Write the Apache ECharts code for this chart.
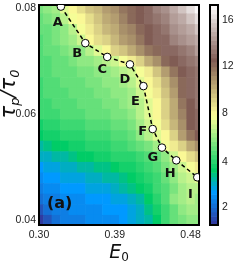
<!DOCTYPE html>
<html><head><meta charset="utf-8">
<script src="https://cdn.jsdelivr.net/npm/echarts@6/dist/echarts.min.js"></script>
<style>html,body{margin:0;padding:0;background:#fff}#c{width:245px;height:268px}</style>
</head><body><div id="c"></div>
<script>
// ---- data ----
const E0 = [0.30,0.31,0.32,0.33,0.34,0.35,0.36,0.37,0.38,0.39,0.40,0.41,0.42,0.43,0.44,0.45,0.46,0.47,0.48,0.49];
const tauRows = [0.080,0.078,0.076,0.074,0.072,0.070,0.068,0.066,0.064,0.062,0.060,0.058,0.056,0.054,0.052,0.050,0.048,0.046,0.044,0.042,0.040];
const zRows = [
 [5.4,5.8,6.3,7.3,8.1,8.8,9.4,10.0,10.6,11.2,11.8,12.3,12.7,13.1,13.6,14.2,14.9,15.6,16.4,17.2],
 [5.2,5.5,5.9,6.4,7.5,8.2,8.9,9.6,10.2,10.8,11.4,12.0,12.5,12.9,13.3,13.8,14.4,15.0,15.7,16.4],
 [5.0,5.3,5.6,6.0,6.5,7.6,8.4,9.1,9.8,10.4,11.0,11.6,12.2,12.7,13.0,13.4,13.9,14.4,15.0,15.6],
 [4.9,5.1,5.4,5.7,6.1,6.9,7.9,8.6,9.3,10.0,10.6,11.2,11.8,12.4,12.8,13.1,13.5,13.9,14.4,14.9],
 [4.8,5.0,5.2,5.4,5.7,6.0,6.4,7.3,8.2,9.0,9.7,10.4,11.0,11.7,12.3,12.8,13.1,13.4,13.8,14.3],
 [4.7,4.9,5.1,5.3,5.5,5.7,5.9,6.2,6.5,6.9,7.5,8.3,9.2,10.1,11.1,12.0,12.6,12.9,13.2,13.6],
 [4.6,4.8,5.0,5.1,5.3,5.5,5.6,5.8,6.0,6.2,6.5,6.9,7.7,8.5,9.5,10.6,11.7,12.6,13.0,13.4],
 [4.5,4.7,4.9,5.0,5.2,5.3,5.5,5.6,5.8,6.0,6.2,6.6,7.2,8.0,8.9,9.9,11.1,12.3,12.9,13.3],
 [4.5,4.6,4.8,4.9,5.1,5.2,5.3,5.5,5.6,5.8,6.0,6.3,6.8,7.6,8.5,9.5,10.7,12.0,12.8,13.2],
 [4.4,4.5,4.7,4.8,4.9,5.0,5.2,5.3,5.4,5.6,5.8,6.1,6.6,7.4,8.2,9.2,10.4,11.8,12.7,13.2],
 [4.3,4.4,4.5,4.6,4.7,4.8,5.0,5.1,5.2,5.4,5.6,5.9,6.4,7.2,8.0,9.0,10.2,11.6,12.7,13.1],
 [3.9,4.1,4.2,4.3,4.4,4.5,4.7,4.8,4.9,5.1,5.3,5.6,6.1,6.8,7.7,8.6,9.8,11.2,12.5,13.0],
 [3.6,3.8,3.9,4.0,4.1,4.2,4.3,4.4,4.5,4.7,4.9,5.2,5.7,6.4,7.3,8.1,9.2,10.5,11.8,12.5],
 [3.3,3.5,3.6,3.7,3.8,3.9,4.0,4.1,4.2,4.3,4.5,4.7,5.0,5.5,6.3,7.5,8.4,9.3,10.3,11.0],
 [3.0,3.1,3.2,3.3,3.5,3.6,3.7,3.8,3.9,4.0,4.1,4.2,4.4,4.7,5.2,6.0,7.1,8.1,8.9,9.5],
 [2.7,2.8,2.9,3.0,3.1,3.2,3.3,3.4,3.5,3.6,3.8,3.9,4.1,4.4,4.8,5.4,6.2,7.0,7.8,8.4],
 [2.5,2.6,2.7,2.8,2.85,2.9,3.0,3.1,3.2,3.3,3.5,3.7,3.9,4.2,4.5,5.0,5.7,6.4,6.9,7.4],
 [2.3,2.4,2.5,2.6,2.65,2.7,2.8,2.85,2.9,3.0,3.2,3.4,3.6,3.9,4.3,4.8,5.6,6.2,6.5,6.6],
 [2.1,2.2,2.3,2.4,2.5,2.55,2.6,2.65,2.7,2.8,2.9,3.1,3.3,3.6,4.1,4.8,5.8,6.3,6.4,6.3],
 [1.7,2.0,2.2,2.3,2.4,2.45,2.5,2.55,2.6,2.65,2.75,2.9,3.1,3.4,3.9,4.5,5.3,6.0,6.2,6.1],
 [1.35,1.8,2.1,2.2,2.3,2.35,2.4,2.45,2.5,2.55,2.65,2.8,3.0,3.3,3.7,4.3,5.0,5.5,5.8,6.0]
];
const pathLabels = ['A','B','C','D','E','F','G','H','I'];
const pathE0  = [0.326,0.355,0.381,0.408,0.424,0.435,0.446,0.463,0.488];
const pathTau = [0.0803,0.0734,0.0708,0.0694,0.0653,0.0572,0.0537,0.0513,0.0481];
const xTicks = [0.30,0.39,0.48];
const yTicks = [0.04,0.06,0.08];
const cbTicks = [2,4,8,12,16];

// ---- colour scale (terrain-like, non-uniform colorbar) ----
const scaleV = [1.23,2,4,8,12,16,17.27];
const scaleF = [0,0.080,0.287,0.509,0.721,0.932,1];
const NB = 50;
function toF(v){
  if (v <= scaleV[0]) return 0;
  for (let i=1;i<scaleV.length;i++){
    if (v <= scaleV[i]) return scaleF[i-1] + (v-scaleV[i-1])/(scaleV[i]-scaleV[i-1])*(scaleF[i]-scaleF[i-1]);
  }
  return 1;
}
const stops = [[0,[0.2,0.2,0.6]],[0.15,[0,0.6,1]],[0.25,[0,0.8,0.4]],[0.5,[1,1,0.6]],[0.75,[0.5,0.36,0.33]],[1,[1,1,1]]];
function terrain(f){
  for (let i=1;i<stops.length;i++){
    if (f <= stops[i][0]){
      const a=stops[i-1], b=stops[i], t=(f-a[0])/(b[0]-a[0]);
      const c=a[1].map((x,j)=>Math.round(255*(x+(b[1][j]-x)*t)));
      return 'rgb('+c.join(',')+')';
    }
  }
  return 'rgb(255,255,255)';
}
function colorOfF(f){ const k=Math.min(NB-1,Math.max(0,Math.floor(f*NB))); return terrain((k+0.5)/NB); }
function colorOf(v){ return colorOfF(toF(v)); }

const dx = E0[1]-E0[0], dy = tauRows[0]-tauRows[1];
const heatData = [];
tauRows.forEach((t,r)=>E0.forEach((e,c)=>heatData.push([e,t,zRows[r][c]])));
const cbData = Array.from({length:NB},(_,k)=>[k]);
const labelOff = [[-3,16],[-8,10],[-5,13],[-5,15],[-8,16],[-10,3],[-9,10],[-6,13],[-7,17]];
const tickFont = {fontSize:10.5,color:'#222',fontFamily:'Liberation Sans'};

const chart = echarts.init(document.getElementById('c'), null, {renderer:'canvas'});
chart.setOption({
  animation:false,
  grid:[
    {left:39,top:5,width:160,height:220,show:true,borderColor:'#000',borderWidth:2,z:5,backgroundColor:'transparent',outerBoundsMode:'none'},
    {left:210,top:5,width:8,height:220,show:true,borderColor:'#000',borderWidth:2,z:5,backgroundColor:'transparent',outerBoundsMode:'none'}
  ],
  xAxis:[
    {gridIndex:0,type:'value',min:0.30,max:0.49,axisLine:{show:false},axisTick:{show:false},splitLine:{show:false},
     axisLabel:Object.assign({customValues:xTicks,formatter:v=>v.toFixed(2),margin:5,align:'center',alignMinLabel:'center',alignMaxLabel:'center',hideOverlap:false},tickFont),
     name:'{e|E}{s|0}',nameLocation:'middle',nameGap:17,nameMoveOverlap:false,
     nameTextStyle:{align:'center',rich:{e:{fontSize:19,lineHeight:22,fontStyle:'italic',fontFamily:'DejaVu Sans',color:'#111'},
                          s:{fontSize:12,lineHeight:10,verticalAlign:'bottom',fontFamily:'DejaVu Sans',color:'#111'}}}},
    {gridIndex:1,type:'value',min:0,max:1,show:false}
  ],
  yAxis:[
    {gridIndex:0,type:'value',min:0.0391,max:0.0806,axisLine:{show:false},axisTick:{show:false},splitLine:{show:false},
     axisLabel:Object.assign({customValues:yTicks,formatter:v=>v.toFixed(2),margin:3,align:'right',alignMinLabel:'right',alignMaxLabel:'right',
       verticalAlign:'middle',verticalAlignMinLabel:'middle',verticalAlignMaxLabel:'middle',hideOverlap:false},tickFont)},
    {gridIndex:1,type:'value',min:0,max:1,position:'right',axisLine:{show:false},axisTick:{show:false},splitLine:{show:false},
     axisLabel:Object.assign({customValues:cbTicks.map(toF),margin:4,hideOverlap:false,align:'left',alignMinLabel:'left',alignMaxLabel:'left',
       verticalAlign:'middle',verticalAlignMinLabel:'middle',verticalAlignMaxLabel:'middle',
       formatter:v=>{let best=0;cbTicks.forEach((t,i)=>{if(Math.abs(toF(t)-v)<Math.abs(toF(cbTicks[best])-v))best=i;});return String(cbTicks[best]);}},tickFont)}
  ],
  series:[
    {type:'custom',xAxisIndex:0,yAxisIndex:0,clip:true,z:2,data:heatData,silent:true,
     renderItem:(p,api)=>{
       const a=api.coord([api.value(0)-dx/2,api.value(1)+dy/2]);
       const b=api.coord([api.value(0)+dx/2,api.value(1)-dy/2]);
       return {type:'rect',shape:{x:a[0],y:a[1],width:b[0]-a[0]+0.6,height:b[1]-a[1]+0.6},style:{fill:colorOf(api.value(2))}};
     }},
    {type:'custom',xAxisIndex:1,yAxisIndex:1,clip:true,z:2,data:cbData,silent:true,
     renderItem:(p,api)=>{
       const k=api.value(0);
       const a=api.coord([0,(k+1)/NB]), b=api.coord([1,k/NB]);
       return {type:'rect',shape:{x:a[0],y:a[1],width:b[0]-a[0],height:b[1]-a[1]+0.6},style:{fill:terrain((k+0.5)/NB)}};
     }},
    {type:'line',xAxisIndex:0,yAxisIndex:0,clip:true,z:8,symbol:'none',silent:true,
     data:pathE0.map((e,i)=>[e,pathTau[i]]),lineStyle:{color:'#000',width:1.5,type:[4,3]}},
    {type:'custom',xAxisIndex:0,yAxisIndex:0,clip:true,z:10,silent:true,
     data:pathE0.map((e,i)=>[e,pathTau[i],i]),
     renderItem:(p,api)=>{
       const c=api.coord([api.value(0),api.value(1)]); const i=api.value(2);
       return {type:'group',children:[
         {type:'circle',shape:{cx:c[0],cy:c[1],r:3.8},style:{fill:'#fff',stroke:'#000',lineWidth:1}},
         {type:'text',x:c[0]+labelOff[i][0],y:c[1]+labelOff[i][1],style:{text:pathLabels[i],font:'bold 13px "DejaVu Sans"',fill:'#111',align:'center',verticalAlign:'middle'}}
       ]};
     }}
  ],
  graphic:[
    {type:'text',left:47,top:196,z:20,style:{text:'(a)',font:'bold 16px "DejaVu Sans"',fill:'#111'}},
    {type:'text',x:10,y:94,rotation:Math.PI/2,z:20,
     style:{text:'{t|τ}{s|p}{t|/τ}{s|0}',align:'center',verticalAlign:'middle',
       rich:{t:{fontSize:21,lineHeight:24,fontStyle:'italic',fontFamily:'DejaVu Sans',fill:'#111'},
             s:{fontSize:13,lineHeight:11,verticalAlign:'bottom',fontStyle:'italic',fontFamily:'DejaVu Sans',fill:'#111'}}}}
  ]
});
</script></body></html>
